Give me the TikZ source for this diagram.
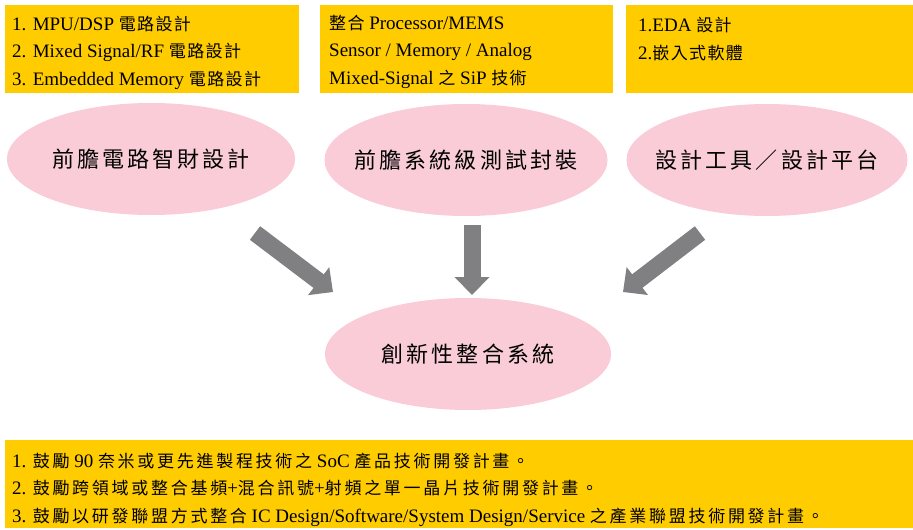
\documentclass[tikz,border=0pt]{standalone}
\usepackage{fontspec}
\setmainfont{Liberation Serif}
\newfontfamily\cjkfont[LetterSpace=8]{Noto Sans CJK TC}
\newfontfamily\cjkplan[LetterSpace=16]{Noto Sans CJK TC}
\newfontfamily\cjkwide[LetterSpace=14]{Noto Sans CJK TC}
\newcommand{\zh}[1]{{\cjkfont\fontsize{17}{27.5}\selectfont #1}}
\newcommand{\zhp}[1]{{\cjkplan\fontsize{17}{27.5}\selectfont #1}}
\usetikzlibrary{shapes.geometric,arrows.meta}
\definecolor{boxyellow}{RGB}{255,204,0}
\definecolor{ovalpink}{RGB}{249,204,215}
\definecolor{arrowgray}{RGB}{128,128,131}

\begin{document}
\begin{tikzpicture}
  [x=1pt,y=-1pt,
   infobox/.style={rectangle,fill=boxyellow,anchor=north west,inner sep=0pt,minimum height=88pt},
   infotext/.style={anchor=base west,align=left,inner sep=0pt,font=\fontsize{19}{27.5}\selectfont},
   oval/.style={ellipse,fill=ovalpink,minimum width=286pt,minimum height=112pt,inner xsep=-50pt,inner ysep=0pt,
                font=\cjkwide\fontsize{22}{26}\selectfont},
   fatarrow/.style={draw=arrowgray,line width=17pt,-{Triangle[width=34pt,length=18pt]}}]

  \useasboundingbox (0,0) rectangle (913,530);

  % yellow boxes
  \node[infobox,minimum width=294pt] (mpubox) at (5,5) {};
  \node[infobox,minimum width=293pt] (sipbox) at (320,5) {};
  \node[infobox,minimum width=287pt] (edabox) at (626,5) {};
  \node[infobox,minimum width=908pt] (planbox) at (5,440) {};

  % texts sit on the baseline of their last line
  \node[infotext] (mputext) at (12,85)
    {1. MPU/DSP \zh{電路設計}\\2. Mixed Signal/RF \zh{電路設計}\\3. Embedded Memory \zh{電路設計}};
  \node[infotext] (siptext) at (329,84)
    {\zh{整合} Processor/MEMS\\Sensor / Memory / Analog\\Mixed-Signal \zh{之} SiP \zh{技術}};
  \node[infotext] (edatext) at (638,59)
    {1.EDA \zh{設計}\\2.\zh{嵌入式軟體}};
  \node[infotext] (plantext) at (12,522)
    {1. \zhp{鼓勵} 90 \zhp{奈米或更先進製程技術之} SoC \zhp{產品技術開發計畫。}\\
     2. \zhp{鼓勵跨領域或整合基頻}+\zhp{混合訊號}+\zhp{射頻之單一晶片技術開發計畫。}\\
     3. \zhp{鼓勵以研發聯盟方式整合} IC Design/Software/System Design/Service \zhp{之產業聯盟技術開發計畫。}};

  % ovals
  \node[oval,minimum width=288pt] (ip) at (151,159) {前膽電路智財設計};
  \node[oval,minimum width=283pt] (sip) at (466,160) {前膽系統級測試封裝};
  \node[oval,minimum width=281pt] (eda) at (767,160) {設計工具／設計平台};
  \node[oval] (sys) at (468,354) {創新性整合系統};

  % arrows
  \coordinate (l0) at (255,233);
  \coordinate (l1) at (333,292);
  \coordinate (m0) at (472,225);
  \coordinate (m1) at (472,295);
  \coordinate (r0) at (700,233);
  \coordinate (r1) at (623,292);
  \foreach \from/\to in {l0/l1,m0/m1,r0/r1}
    \draw[fatarrow] (\from) -- (\to);
\end{tikzpicture}
\end{document}
